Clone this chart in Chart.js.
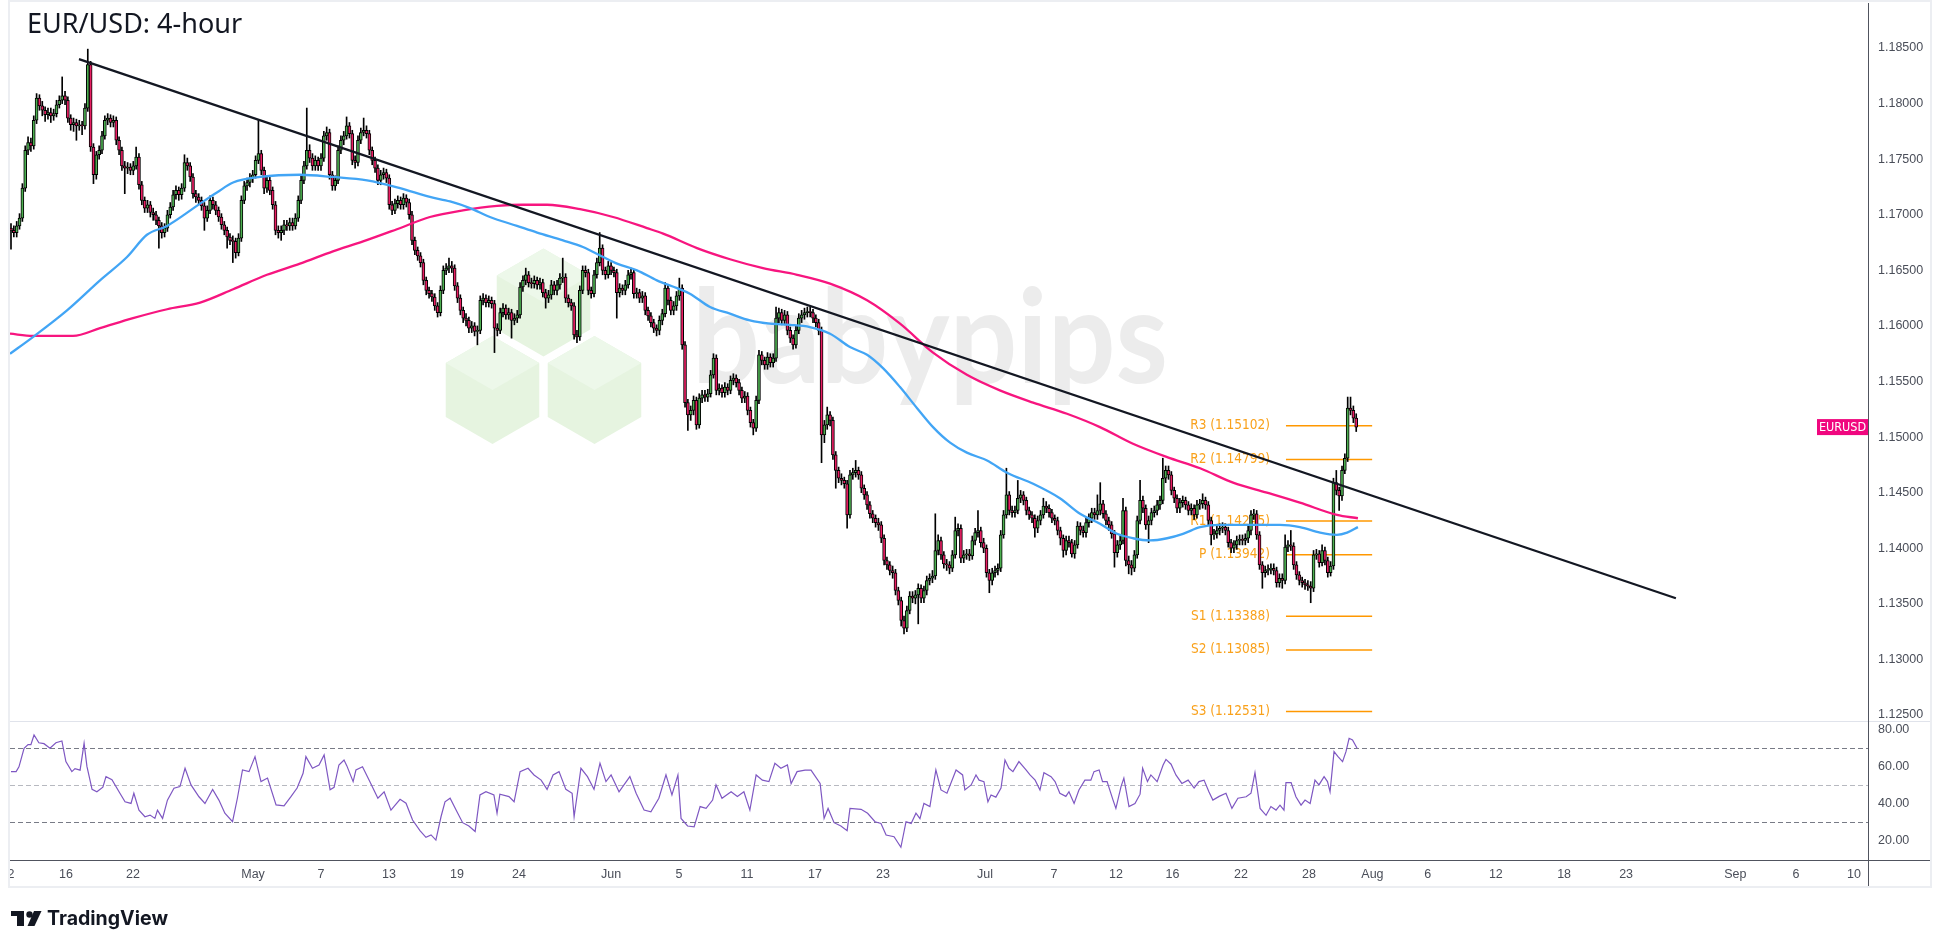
<!DOCTYPE html>
<html>
<head>
<meta charset="utf-8">
<title>EUR/USD: 4-hour</title>
<script src="https://cdn.jsdelivr.net/npm/chart.js@4.4.1/dist/chart.umd.min.js"></script>
<style>
  html, body { margin:0; padding:0; background:#fff; }
  #wrap { position:relative; width:1940px; height:948px; overflow:hidden; background:#fff; }
  #wrap canvas { position:absolute; left:0; }
  #c-price { top:0; }
  #c-rsi { top:721px; }
  #frame { position:absolute; left:8px; top:0; width:1924px; height:888px; box-sizing:border-box;
           border:2px solid #eceef2; pointer-events:none; }
</style>
</head>
<body>
<div id="wrap">
  <canvas id="c-price" width="1940" height="721"></canvas>
  <canvas id="c-rsi" width="1940" height="227"></canvas>
  <div id="frame"></div>
</div>
<script>
// EUR/USD 4-hour — candles, two moving averages, trendline, pivots, RSI pane

// ── candles (one per 4h bar) ──
const opens = [
  1.1688,1.1686,1.1684,1.1690,1.1697,1.1724,1.1758,1.1765,1.1762,1.1785,
  1.1805,1.1798,1.1794,1.1790,1.1792,1.1789,1.1791,1.1799,1.1803,1.1807,
  1.1803,1.1787,1.1781,1.1783,1.1780,1.1781,1.1780,1.1796,1.1835,1.1761,
  1.1736,1.1754,1.1758,1.1771,1.1785,1.1787,1.1783,1.1785,1.1767,1.1758,
  1.1744,1.1742,1.1743,1.1740,1.1744,1.1752,1.1727,1.1713,1.1706,1.1709,
  1.1702,1.1700,1.1695,1.1690,1.1684,1.1688,1.1700,1.1707,1.1718,1.1722,
  1.1718,1.1724,1.1747,1.1744,1.1734,1.1719,1.1716,1.1713,1.1708,1.1697,
  1.1704,1.1713,1.1709,1.1704,1.1698,1.1691,1.1686,1.1680,1.1677,1.1676,
  1.1666,1.1679,1.1713,1.1726,1.1729,1.1733,1.1736,1.1749,1.1755,1.1740,
  1.1724,1.1731,1.1722,1.1709,1.1686,1.1684,1.1686,1.1691,1.1690,1.1693,
  1.1690,1.1697,1.1713,1.1731,1.1744,1.1758,1.1751,1.1744,1.1749,1.1744,
  1.1751,1.1771,1.1774,1.1736,1.1726,1.1731,1.1758,1.1767,1.1771,1.1780,
  1.1773,1.1749,1.1747,1.1767,1.1774,1.1776,1.1773,1.1758,1.1749,1.1742,
  1.1731,1.1736,1.1738,1.1733,1.1709,1.1704,1.1710,1.1713,1.1709,1.1715,
  1.1711,1.1700,1.1677,1.1668,1.1663,1.1657,1.1641,1.1632,1.1629,1.1626,
  1.1618,1.1612,1.1632,1.1650,1.1652,1.1654,1.1652,1.1636,1.1625,1.1614,
  1.1607,1.1605,1.1598,1.1600,1.1595,1.1596,1.1623,1.1625,1.1621,1.1623,
  1.1620,1.1598,1.1596,1.1612,1.1616,1.1610,1.1612,1.1605,1.1607,1.1610,
  1.1635,1.1641,1.1646,1.1639,1.1638,1.1641,1.1637,1.1639,1.1630,1.1625,
  1.1628,1.1637,1.1632,1.1637,1.1643,1.1644,1.1625,1.1621,1.1618,1.1592,
  1.1590,1.1632,1.1650,1.1648,1.1632,1.1629,1.1646,1.1657,1.1670,1.1650,
  1.1646,1.1654,1.1650,1.1648,1.1630,1.1634,1.1632,1.1637,1.1646,1.1648,
  1.1629,1.1630,1.1625,1.1627,1.1614,1.1609,1.1603,1.1598,1.1596,1.1605,
  1.1611,1.1634,1.1623,1.1614,1.1618,1.1627,1.1634,1.1583,1.1531,1.1520,
  1.1524,1.1533,1.1511,1.1535,1.1538,1.1536,1.1539,1.1556,1.1571,1.1542,
  1.1544,1.1540,1.1545,1.1542,1.1551,1.1553,1.1549,1.1542,1.1535,1.1537,
  1.1524,1.1513,1.1508,1.1533,1.1574,1.1569,1.1565,1.1572,1.1567,1.1571,
  1.1607,1.1612,1.1605,1.1610,1.1596,1.1589,1.1583,1.1596,1.1607,1.1610,
  1.1612,1.1613,1.1612,1.1607,1.1603,1.1596,1.1502,1.1511,1.1520,1.1515,
  1.1484,1.1470,1.1463,1.1461,1.1458,1.1430,1.1466,1.1468,1.1470,1.1466,
  1.1454,1.1448,1.1439,1.1431,1.1427,1.1423,1.1421,1.1409,1.1389,1.1385,
  1.1380,1.1378,1.1362,1.1353,1.1335,1.1328,1.1344,1.1357,1.1355,1.1358,
  1.1364,1.1355,1.1362,1.1371,1.1373,1.1375,1.1398,1.1407,1.1394,1.1386,
  1.1385,1.1382,1.1394,1.1416,1.1418,1.1391,1.1394,1.1395,1.1393,1.1407,
  1.1414,1.1416,1.1405,1.1400,1.1378,1.1371,1.1378,1.1380,1.1382,1.1412,
  1.1430,1.1448,1.1434,1.1432,1.1434,1.1445,1.1448,1.1443,1.1434,1.1430,
  1.1427,1.1418,1.1425,1.1430,1.1438,1.1436,1.1432,1.1427,1.1425,1.1416,
  1.1409,1.1398,1.1407,1.1405,1.1395,1.1403,1.1420,1.1416,1.1414,1.1423,
  1.1427,1.1432,1.1430,1.1434,1.1440,1.1431,1.1425,1.1421,1.1413,1.1396,
  1.1403,1.1407,1.1434,1.1389,1.1385,1.1382,1.1394,1.1425,1.1443,1.1436,
  1.1421,1.1425,1.1432,1.1434,1.1439,1.1443,1.1463,1.1470,1.1466,1.1452,
  1.1445,1.1436,1.1441,1.1443,1.1439,1.1434,1.1436,1.1430,1.1439,1.1440,
  1.1443,1.1439,1.1425,1.1412,1.1413,1.1416,1.1418,1.1419,1.1416,1.1405,
  1.1400,1.1403,1.1407,1.1408,1.1407,1.1409,1.1416,1.1430,1.1431,1.1412,
  1.1385,1.1378,1.1380,1.1381,1.1382,1.1380,1.1369,1.1373,1.1371,1.1401,
  1.1403,1.1402,1.1385,1.1376,1.1371,1.1369,1.1367,1.1366,1.1364,1.1394,
  1.1395,1.1387,1.1398,1.1389,1.1378,1.1384,1.1459,1.1452,1.1447,1.1470,
  1.1481,1.1526,1.1524,1.1517
];
const highs = [
  1.1692,1.1690,1.1694,1.1701,1.1728,1.1762,1.1770,1.1769,1.1789,1.1809,
  1.1808,1.1802,1.1797,1.1796,1.1796,1.1795,1.1803,1.1807,1.1824,1.1811,
  1.1806,1.1790,1.1787,1.1786,1.1785,1.1784,1.1800,1.1849,1.1838,1.1764,
  1.1757,1.1762,1.1775,1.1789,1.1791,1.1790,1.1789,1.1788,1.1770,1.1761,
  1.1748,1.1747,1.1746,1.1748,1.1761,1.1755,1.1730,1.1716,1.1713,1.1712,
  1.1706,1.1703,1.1698,1.1693,1.1692,1.1704,1.1711,1.1722,1.1726,1.1725,
  1.1728,1.1754,1.1751,1.1747,1.1737,1.1722,1.1719,1.1716,1.1711,1.1708,
  1.1717,1.1716,1.1712,1.1707,1.1701,1.1694,1.1689,1.1683,1.1681,1.1679,
  1.1683,1.1717,1.1730,1.1733,1.1737,1.1740,1.1753,1.1785,1.1758,1.1743,
  1.1735,1.1734,1.1725,1.1712,1.1690,1.1690,1.1695,1.1695,1.1697,1.1697,
  1.1701,1.1717,1.1735,1.1748,1.1796,1.1763,1.1755,1.1753,1.1752,1.1755,
  1.1775,1.1779,1.1777,1.1739,1.1735,1.1762,1.1771,1.1775,1.1788,1.1783,
  1.1776,1.1753,1.1771,1.1778,1.1787,1.1780,1.1776,1.1761,1.1752,1.1745,
  1.1740,1.1742,1.1741,1.1736,1.1712,1.1714,1.1717,1.1716,1.1719,1.1718,
  1.1714,1.1703,1.1680,1.1671,1.1666,1.1660,1.1644,1.1635,1.1632,1.1629,
  1.1621,1.1636,1.1654,1.1656,1.1661,1.1658,1.1655,1.1639,1.1628,1.1617,
  1.1611,1.1608,1.1604,1.1603,1.1600,1.1627,1.1629,1.1628,1.1627,1.1626,
  1.1623,1.1602,1.1616,1.1620,1.1619,1.1616,1.1615,1.1611,1.1614,1.1639,
  1.1645,1.1652,1.1649,1.1643,1.1645,1.1644,1.1643,1.1642,1.1633,1.1632,
  1.1641,1.1640,1.1641,1.1647,1.1661,1.1647,1.1628,1.1624,1.1621,1.1596,
  1.1636,1.1654,1.1654,1.1651,1.1635,1.1650,1.1661,1.1684,1.1673,1.1653,
  1.1658,1.1657,1.1653,1.1651,1.1638,1.1637,1.1641,1.1650,1.1652,1.1651,
  1.1634,1.1633,1.1631,1.1630,1.1617,1.1612,1.1606,1.1601,1.1609,1.1615,
  1.1639,1.1637,1.1626,1.1622,1.1631,1.1643,1.1637,1.1586,1.1534,1.1528,
  1.1537,1.1536,1.1539,1.1542,1.1542,1.1543,1.1560,1.1575,1.1574,1.1548,
  1.1547,1.1549,1.1548,1.1555,1.1557,1.1556,1.1552,1.1545,1.1541,1.1540,
  1.1527,1.1516,1.1537,1.1578,1.1577,1.1572,1.1576,1.1575,1.1575,1.1617,
  1.1616,1.1615,1.1614,1.1613,1.1599,1.1592,1.1600,1.1611,1.1614,1.1616,
  1.1617,1.1617,1.1615,1.1610,1.1606,1.1599,1.1515,1.1527,1.1523,1.1518,
  1.1487,1.1473,1.1467,1.1464,1.1461,1.1470,1.1472,1.1479,1.1473,1.1469,
  1.1457,1.1451,1.1442,1.1434,1.1430,1.1427,1.1424,1.1412,1.1392,1.1388,
  1.1384,1.1381,1.1365,1.1356,1.1339,1.1348,1.1361,1.1361,1.1362,1.1368,
  1.1367,1.1366,1.1375,1.1377,1.1380,1.1431,1.1412,1.1410,1.1397,1.1390,
  1.1388,1.1398,1.1428,1.1422,1.1421,1.1398,1.1399,1.1399,1.1411,1.1418,
  1.1434,1.1419,1.1409,1.1403,1.1381,1.1382,1.1384,1.1386,1.1416,1.1434,
  1.1472,1.1451,1.1438,1.1438,1.1461,1.1452,1.1451,1.1446,1.1437,1.1433,
  1.1430,1.1429,1.1434,1.1445,1.1442,1.1439,1.1435,1.1430,1.1428,1.1419,
  1.1412,1.1411,1.1411,1.1408,1.1407,1.1424,1.1423,1.1420,1.1427,1.1431,
  1.1436,1.1436,1.1448,1.1459,1.1443,1.1434,1.1428,1.1424,1.1416,1.1407,
  1.1411,1.1445,1.1437,1.1393,1.1389,1.1398,1.1429,1.1461,1.1447,1.1439,
  1.1429,1.1436,1.1438,1.1443,1.1447,1.1481,1.1474,1.1474,1.1469,1.1455,
  1.1448,1.1445,1.1447,1.1446,1.1442,1.1440,1.1439,1.1443,1.1444,1.1449,
  1.1446,1.1442,1.1428,1.1417,1.1420,1.1422,1.1423,1.1422,1.1419,1.1408,
  1.1407,1.1411,1.1412,1.1412,1.1413,1.1420,1.1434,1.1435,1.1434,1.1415,
  1.1388,1.1384,1.1385,1.1386,1.1386,1.1383,1.1377,1.1377,1.1412,1.1407,
  1.1416,1.1405,1.1388,1.1379,1.1374,1.1372,1.1371,1.1370,1.1398,1.1399,
  1.1398,1.1403,1.1401,1.1392,1.1388,1.1463,1.1470,1.1455,1.1474,1.1485,
  1.1536,1.1536,1.1528,1.1521
];
const lows = [
  1.1669,1.1680,1.1680,1.1687,1.1694,1.1721,1.1754,1.1757,1.1759,1.1782,
  1.1794,1.1789,1.1784,1.1786,1.1783,1.1785,1.1788,1.1796,1.1800,1.1799,
  1.1783,1.1776,1.1775,1.1767,1.1776,1.1772,1.1777,1.1793,1.1757,1.1728,
  1.1732,1.1750,1.1755,1.1768,1.1781,1.1779,1.1779,1.1763,1.1754,1.1740,
  1.1719,1.1737,1.1736,1.1736,1.1741,1.1723,1.1709,1.1702,1.1702,1.1698,
  1.1695,1.1691,1.1670,1.1679,1.1680,1.1685,1.1697,1.1704,1.1714,1.1713,
  1.1714,1.1721,1.1740,1.1730,1.1715,1.1711,1.1709,1.1704,1.1686,1.1694,
  1.1701,1.1705,1.1700,1.1694,1.1687,1.1682,1.1670,1.1673,1.1657,1.1661,
  1.1663,1.1676,1.1710,1.1722,1.1725,1.1729,1.1733,1.1746,1.1736,1.1719,
  1.1720,1.1718,1.1705,1.1682,1.1679,1.1677,1.1682,1.1686,1.1686,1.1686,
  1.1687,1.1694,1.1710,1.1728,1.1741,1.1747,1.1740,1.1740,1.1740,1.1740,
  1.1748,1.1767,1.1732,1.1722,1.1722,1.1728,1.1755,1.1763,1.1768,1.1769,
  1.1745,1.1742,1.1744,1.1764,1.1771,1.1769,1.1754,1.1745,1.1738,1.1727,
  1.1727,1.1732,1.1729,1.1705,1.1700,1.1701,1.1706,1.1705,1.1705,1.1707,
  1.1696,1.1673,1.1664,1.1659,1.1653,1.1637,1.1628,1.1625,1.1622,1.1614,
  1.1608,1.1609,1.1629,1.1646,1.1648,1.1648,1.1632,1.1621,1.1610,1.1603,
  1.1600,1.1594,1.1594,1.1591,1.1583,1.1593,1.1619,1.1617,1.1617,1.1616,
  1.1576,1.1591,1.1593,1.1608,1.1606,1.1606,1.1589,1.1601,1.1603,1.1607,
  1.1631,1.1637,1.1635,1.1634,1.1634,1.1633,1.1633,1.1626,1.1616,1.1621,
  1.1624,1.1628,1.1628,1.1633,1.1639,1.1621,1.1617,1.1614,1.1588,1.1585,
  1.1587,1.1629,1.1644,1.1628,1.1625,1.1626,1.1643,1.1654,1.1646,1.1642,
  1.1643,1.1646,1.1644,1.1607,1.1626,1.1628,1.1628,1.1634,1.1642,1.1625,
  1.1625,1.1621,1.1621,1.1610,1.1605,1.1599,1.1594,1.1591,1.1592,1.1601,
  1.1608,1.1619,1.1610,1.1610,1.1614,1.1623,1.1579,1.1527,1.1506,1.1515,
  1.1520,1.1507,1.1508,1.1531,1.1532,1.1532,1.1536,1.1553,1.1538,1.1538,
  1.1536,1.1536,1.1538,1.1539,1.1547,1.1545,1.1538,1.1531,1.1531,1.1520,
  1.1509,1.1502,1.1505,1.1530,1.1565,1.1561,1.1561,1.1563,1.1563,1.1568,
  1.1603,1.1601,1.1601,1.1592,1.1585,1.1579,1.1580,1.1593,1.1603,1.1606,
  1.1608,1.1608,1.1603,1.1599,1.1592,1.1477,1.1495,1.1507,1.1510,1.1480,
  1.1454,1.1459,1.1457,1.1454,1.1418,1.1427,1.1462,1.1464,1.1462,1.1450,
  1.1444,1.1435,1.1427,1.1423,1.1419,1.1416,1.1405,1.1385,1.1381,1.1376,
  1.1373,1.1358,1.1349,1.1330,1.1323,1.1325,1.1341,1.1351,1.1350,1.1332,
  1.1351,1.1351,1.1358,1.1367,1.1369,1.1372,1.1394,1.1390,1.1382,1.1380,
  1.1377,1.1379,1.1391,1.1411,1.1387,1.1387,1.1390,1.1389,1.1390,1.1403,
  1.1410,1.1401,1.1396,1.1374,1.1360,1.1367,1.1374,1.1376,1.1379,1.1409,
  1.1427,1.1430,1.1428,1.1428,1.1431,1.1441,1.1439,1.1430,1.1426,1.1423,
  1.1410,1.1414,1.1421,1.1427,1.1432,1.1428,1.1423,1.1421,1.1412,1.1403,
  1.1392,1.1394,1.1401,1.1392,1.1391,1.1400,1.1412,1.1410,1.1410,1.1419,
  1.1423,1.1426,1.1426,1.1430,1.1427,1.1421,1.1416,1.1409,1.1383,1.1392,
  1.1399,1.1404,1.1384,1.1377,1.1376,1.1379,1.1391,1.1422,1.1432,1.1417,
  1.1405,1.1421,1.1428,1.1430,1.1435,1.1440,1.1459,1.1462,1.1448,1.1441,
  1.1432,1.1432,1.1437,1.1435,1.1430,1.1430,1.1426,1.1427,1.1435,1.1436,
  1.1435,1.1421,1.1403,1.1408,1.1409,1.1412,1.1414,1.1412,1.1401,1.1396,
  1.1396,1.1399,1.1403,1.1403,1.1403,1.1405,1.1412,1.1426,1.1408,1.1381,
  1.1364,1.1374,1.1376,1.1377,1.1376,1.1365,1.1365,1.1364,1.1368,1.1397,
  1.1398,1.1381,1.1372,1.1367,1.1365,1.1363,1.1362,1.1351,1.1361,1.1390,
  1.1383,1.1384,1.1385,1.1374,1.1375,1.1381,1.1448,1.1434,1.1443,1.1467,
  1.1478,1.1520,1.1513,1.1505
];
const closes = [
  1.1686,1.1684,1.1690,1.1697,1.1724,1.1758,1.1765,1.1762,1.1785,1.1805,
  1.1798,1.1794,1.1790,1.1792,1.1789,1.1791,1.1799,1.1803,1.1807,1.1803,
  1.1787,1.1781,1.1783,1.1780,1.1781,1.1780,1.1796,1.1835,1.1761,1.1736,
  1.1754,1.1758,1.1771,1.1785,1.1787,1.1783,1.1785,1.1767,1.1758,1.1744,
  1.1742,1.1743,1.1740,1.1744,1.1752,1.1727,1.1713,1.1706,1.1709,1.1702,
  1.1700,1.1695,1.1690,1.1684,1.1688,1.1700,1.1707,1.1718,1.1722,1.1718,
  1.1724,1.1747,1.1744,1.1734,1.1719,1.1716,1.1713,1.1708,1.1697,1.1704,
  1.1713,1.1709,1.1704,1.1698,1.1691,1.1686,1.1680,1.1677,1.1676,1.1666,
  1.1679,1.1713,1.1726,1.1729,1.1733,1.1736,1.1749,1.1755,1.1740,1.1724,
  1.1731,1.1722,1.1709,1.1686,1.1684,1.1686,1.1691,1.1690,1.1693,1.1690,
  1.1697,1.1713,1.1731,1.1744,1.1758,1.1751,1.1744,1.1749,1.1744,1.1751,
  1.1771,1.1774,1.1736,1.1726,1.1731,1.1758,1.1767,1.1771,1.1780,1.1773,
  1.1749,1.1747,1.1767,1.1774,1.1776,1.1773,1.1758,1.1749,1.1742,1.1731,
  1.1736,1.1738,1.1733,1.1709,1.1704,1.1710,1.1713,1.1709,1.1715,1.1711,
  1.1700,1.1677,1.1668,1.1663,1.1657,1.1641,1.1632,1.1629,1.1626,1.1618,
  1.1612,1.1632,1.1650,1.1652,1.1654,1.1652,1.1636,1.1625,1.1614,1.1607,
  1.1605,1.1598,1.1600,1.1595,1.1596,1.1623,1.1625,1.1621,1.1623,1.1620,
  1.1598,1.1596,1.1612,1.1616,1.1610,1.1612,1.1605,1.1607,1.1610,1.1635,
  1.1641,1.1646,1.1639,1.1638,1.1641,1.1637,1.1639,1.1630,1.1625,1.1628,
  1.1637,1.1632,1.1637,1.1643,1.1644,1.1625,1.1621,1.1618,1.1592,1.1590,
  1.1632,1.1650,1.1648,1.1632,1.1629,1.1646,1.1657,1.1670,1.1650,1.1646,
  1.1654,1.1650,1.1648,1.1630,1.1634,1.1632,1.1637,1.1646,1.1648,1.1629,
  1.1630,1.1625,1.1627,1.1614,1.1609,1.1603,1.1598,1.1596,1.1605,1.1611,
  1.1634,1.1623,1.1614,1.1618,1.1627,1.1634,1.1583,1.1531,1.1520,1.1524,
  1.1533,1.1511,1.1535,1.1538,1.1536,1.1539,1.1556,1.1571,1.1542,1.1544,
  1.1540,1.1545,1.1542,1.1551,1.1553,1.1549,1.1542,1.1535,1.1537,1.1524,
  1.1513,1.1508,1.1533,1.1574,1.1569,1.1565,1.1572,1.1567,1.1571,1.1607,
  1.1612,1.1605,1.1610,1.1596,1.1589,1.1583,1.1596,1.1607,1.1610,1.1612,
  1.1613,1.1612,1.1607,1.1603,1.1596,1.1502,1.1511,1.1520,1.1515,1.1484,
  1.1470,1.1463,1.1461,1.1458,1.1430,1.1466,1.1468,1.1470,1.1466,1.1454,
  1.1448,1.1439,1.1431,1.1427,1.1423,1.1421,1.1409,1.1389,1.1385,1.1380,
  1.1378,1.1362,1.1353,1.1335,1.1328,1.1344,1.1357,1.1355,1.1358,1.1364,
  1.1355,1.1362,1.1371,1.1373,1.1375,1.1398,1.1407,1.1394,1.1386,1.1385,
  1.1382,1.1394,1.1416,1.1418,1.1391,1.1394,1.1395,1.1393,1.1407,1.1414,
  1.1416,1.1405,1.1400,1.1378,1.1371,1.1378,1.1380,1.1382,1.1412,1.1430,
  1.1448,1.1434,1.1432,1.1434,1.1445,1.1448,1.1443,1.1434,1.1430,1.1427,
  1.1418,1.1425,1.1430,1.1438,1.1436,1.1432,1.1427,1.1425,1.1416,1.1409,
  1.1398,1.1407,1.1405,1.1395,1.1403,1.1420,1.1416,1.1414,1.1423,1.1427,
  1.1432,1.1430,1.1434,1.1440,1.1431,1.1425,1.1421,1.1413,1.1396,1.1403,
  1.1407,1.1434,1.1389,1.1385,1.1382,1.1394,1.1425,1.1443,1.1436,1.1421,
  1.1425,1.1432,1.1434,1.1439,1.1443,1.1463,1.1470,1.1466,1.1452,1.1445,
  1.1436,1.1441,1.1443,1.1439,1.1434,1.1436,1.1430,1.1439,1.1440,1.1443,
  1.1439,1.1425,1.1412,1.1413,1.1416,1.1418,1.1419,1.1416,1.1405,1.1400,
  1.1403,1.1407,1.1408,1.1407,1.1409,1.1416,1.1430,1.1431,1.1412,1.1385,
  1.1378,1.1380,1.1381,1.1382,1.1380,1.1369,1.1373,1.1371,1.1401,1.1403,
  1.1402,1.1385,1.1376,1.1371,1.1369,1.1367,1.1366,1.1364,1.1394,1.1395,
  1.1387,1.1398,1.1389,1.1378,1.1384,1.1459,1.1452,1.1447,1.1470,1.1481,
  1.1526,1.1524,1.1517,1.1509
];

// ── overlays: moving averages (bar index, price) ──
const blueIdx = [-0.35,7.7,19.7,31.3,40.8,47.8,54.9,66.5,72.4,78.1,87.6,101.6,113.2,125.2,136.8,147.3,154.4,161.4,168.4,177.9,
  185,194.1,201.1,208.2,213.1,220.1,227.1,234.2,238.7,245.8,252.8,259.8,266.9,273.9,280.9,288,295,301,306.6,312.6,
  318.6,324.2,330.2,336.1,343.2,350.2,359.4,368.8,375.9,382.9,388.9,394.5,400.5,406.5,412.1,418.1,425.1,435.7,446.2,453.2,
  460.3,466.2,469.8,473.6];
const blueVals = [1.1575,1.1590,1.1614,1.1641,1.1662,1.1682,1.1690,1.1710,1.1720,1.1729,1.1734,1.1736,1.1734,1.1731,1.1724,1.1716,1.1712,1.1706,1.1698,1.1690,
  1.1684,1.1677,1.1671,1.1662,1.1656,1.1650,1.1641,1.1634,1.1629,1.1617,1.1611,1.1605,1.1602,1.1601,1.1599,1.1593,1.1581,1.1574,1.1562,1.1545,
  1.1526,1.1509,1.1495,1.1486,1.1479,1.1468,1.1458,1.1445,1.1431,1.1422,1.1413,1.1409,1.1407,1.1409,1.1413,1.1419,1.1421,1.1421,1.1421,1.1419,
  1.1414,1.1412,1.1414,1.1419];
const pinkIdx = [-0.35,7.7,21.8,31.3,42.9,54.9,66.5,78.1,90,101.6,113.2,123.8,135.7,147.3,158.9,170.9,180,188.5,200.1,211.7,
  223.6,229.3,241.2,252.8,264.4,276.4,288,301,312.6,324.2,336.1,347.7,359.4,371.3,382.9,394.5,406.5,418.1,429.7,441.6,
  453.2,466.2,473.6];
const pinkVals = [1.1593,1.1591,1.1591,1.1598,1.1607,1.1615,1.1621,1.1633,1.1646,1.1656,1.1667,1.1676,1.1687,1.1698,1.1704,1.1708,1.1709,1.1709,1.1705,1.1698,
  1.1688,1.1683,1.1670,1.1660,1.1652,1.1646,1.1638,1.1623,1.1602,1.1576,1.1556,1.1542,1.1531,1.1521,1.1509,1.1494,1.1482,1.1472,1.1459,1.1450,
  1.1441,1.1430,1.1427];
const trendIdx = [23.9, 585.4];
const trendVals = [1.1840, 1.1355];

// ── pivot levels ──
const pivotNames = ['R3','R2','R1','P','S1','S2','S3'];
const pivotVals = [1.15102,1.14799,1.14245,1.13942,1.13388,1.13085,1.12531];
const pivotSpan = [448.3, 478.6];

// ── axes ──
const priceTicks = [1.125,1.130,1.135,1.140,1.145,1.150,1.155,1.160,1.165,1.170,1.175,1.180,1.185];
const dateLabels = ['2','16','22','May','7','13','19','24','Jun','5','11','17','23','Jul','7','12','16','22','28','Aug','6','12','18','23','Sep','6','10'];
const dateIdx = [0,19.3,42.9,85.1,109,132.9,156.8,178.6,211,234.9,258.8,282.7,306.6,342.5,366.7,388.5,408.4,432.5,456.4,478.7,498.1,522.1,546.1,567.9,606.3,627.6,648];

// ── RSI pane (bar index, value) ──
const rsiIdx = [0,1.8,2.8,4.6,6,7,8.1,9.8,11.6,13.7,15.8,17.9,19.3,21.4,22.5,24.3,25.7,26.7,28.5,30.2,
  32.3,33.4,35.5,38.3,40.1,42.2,43.2,45,47.1,48.9,50.6,51.5,53.3,55,57.3,59.4,61.2,63.3,66.1,68.2,
  70.9,73.1,75.2,77.9,79.6,81.4,83.7,85.8,87.9,90.2,93.2,96,98.5,100.6,102.7,103.7,106,108.3,110.1,112.2,
  113.6,115.3,117.1,118.1,120.3,121.3,123.6,126.2,129,131.2,133.6,136.8,138.9,141.2,143.8,145.9,147.7,149.4,151.2,152.6,
  154.4,156.5,158.8,161,163.2,164.9,167,169.8,170.9,171.9,175.1,176.9,179,181.8,183.9,186.4,188.5,190.6,192.7,195.1,
  197.3,198,200.4,202.7,205,207.1,209.2,211,213.8,217.6,219.8,222.6,225,227.8,230.3,232.4,234.5,235.6,237.9,240.2,
  242.3,244.4,246.7,247.9,250,253.2,255.4,257.7,259.8,262,264.2,266.5,268.6,270.7,273,274.3,276.4,279.2,281.3,284.5,
  285.9,287.3,289.4,291.8,294,295,298.9,301.2,303.8,305.9,307.7,310.5,312.9,314.7,316.5,318.2,319.6,321,323.1,325.2,
  327,329.1,332.3,334.6,335.4,337.6,339.3,340.4,342.1,343.5,344.6,346.3,348.1,349.5,350.9,352.3,354.4,356.9,358.3,360.1,
  361.8,363.2,365.7,367.1,368.8,370.9,372,373.8,375.5,377.6,379.7,380.8,382.6,383.8,385.4,387.5,388.5,390.3,391.3,393.1,
  395.2,397,397.9,399.6,400.8,403,405.1,406.1,407.9,409.6,411.7,413.9,416,417.7,419.5,421.2,422.6,424.8,427.2,429.3,
  431.4,434.3,436,437.4,439.2,441.3,443,444.8,446.2,447.6,448.3,450.1,451.8,453.6,455,456.8,458.5,459.9,461.7,462.9,
  463.8,465.2,466.6,468.2,469.4,470.5,471.7,473.3];
const rsiVals = [57.4,57.4,60,70,72,72,77.2,73,72.5,70,73,74,62.8,57.4,59,58.2,72.7,60.2,47.8,46.5,
  49,54.7,53,45.7,41.1,40.2,45.7,36.6,33,33.9,32.1,36.6,32.1,42,48.4,49.3,59.2,50.2,43.8,40.2,
  47.8,42,34.9,30.3,43,58.3,57.4,65.5,52,53.9,39.4,38.9,44,48.5,56.5,65.5,59.2,61,66.4,47.6,
  48.9,61,63.7,60.5,52,58.3,60,51.9,43,46.5,36.6,42.4,40.3,31.2,25.5,21.9,23.2,20.4,33,41.1,
  43,36.6,29.8,28,25,44.8,46.5,44.8,34.9,45.2,43.9,41.1,57.4,59.2,55.6,52.8,47.8,55.6,57.4,47.8,
  45.7,33,59.2,54.7,47.8,61.9,52,55.6,46.5,54.7,45.7,36.6,35.7,43,55.6,44.8,55.6,32.1,28,27.5,
  38.5,37.5,42,50.2,43,46.5,44,46.5,36.6,55.6,52.8,52,61.9,59.2,61,50.9,57.4,58.2,58.2,51,
  32.1,37.5,29.8,28,25.5,37.5,37,34.9,30.3,29.4,23.1,22.2,16.5,30.3,29.4,34.9,32,40.2,38.5,58.3,
  47.5,45.7,58.3,55.6,47.5,50.2,55.6,52.8,52,41.1,44.8,43.6,48.5,63.7,59.2,57.4,62.8,58.3,55.6,52.8,
  47.5,56.8,54.7,52,45.7,44,46.5,40.2,47.5,52.8,52.8,57.4,58.3,52,52,42,37.5,49.3,53.9,38.5,
  40.2,45.2,59.2,52,55.6,52,61,64,61.4,55.6,51,52.8,48.5,52,52.8,46.5,42,44,45.7,37.5,
  43,43.8,45.7,56.8,37.5,33.8,38.5,36.6,39.3,36.6,51.5,51.5,43.8,39.3,42,40.2,52.8,50.2,54.7,52,
  46.5,68.2,65.5,62.8,68.2,75.4,74.5,70];
const rsiLevels = [70, 50, 30];
const rsiTicks = [20, 40, 60, 80];

// ── look ──
const X_MIN = -0.35, X_MAX = 652.95;
const AXIS_W = 72;
const UP = '#4caf50', DOWN = '#e91e63';
const TXT = '#4a4e59';
const AX_FONT = {family:'"Liberation Sans", Arial, sans-serif', size:12.5};
const NARROW = '"Liberation Sans Narrow", "DejaVu Sans Condensed", "Liberation Sans", sans-serif';

const nBars = Math.min(opens.length, highs.length, lows.length, closes.length);
const pts = (xs, ys) => xs.map((x, i) => ({x, y: ys[i]}));

function hexCube(ctx, cx, cy, r){
  ctx.beginPath();
  for(let k=0;k<6;k++){
    const a = Math.PI/180*(60*k-90);
    ctx.lineTo(cx + r*Math.cos(a), cy + r*Math.sin(a));
  }
  ctx.closePath();
  ctx.fillStyle = '#e6f4e0';
  ctx.fill();
  ctx.beginPath();
  ctx.moveTo(cx, cy-r); ctx.lineTo(cx+r*0.866, cy-r/2); ctx.lineTo(cx, cy); ctx.lineTo(cx-r*0.866, cy-r/2);
  ctx.closePath();
  ctx.fillStyle = '#edf8ea';
  ctx.fill();
}

// price pane: watermark + pivot labels behind the bars, title and tag on top
const pricePane = {
  id:'pricePane',
  beforeDatasetsDraw(chart){
    const {ctx, scales:{x, y}} = chart;
    ctx.save();
    hexCube(ctx, 543.5, 302.5, 54);
    hexCube(ctx, 492.5, 390, 54);
    hexCube(ctx, 594.5, 390, 54);
    ctx.font = 'bold 130px Lato, "Open Sans", sans-serif';
    const w = ctx.measureText('babypips').width;
    ctx.translate(692, 383);
    ctx.scale(476 / w, 1);
    ctx.fillStyle = '#ececec';
    ctx.textBaseline = 'alphabetic';
    ctx.fillText('babypips', 0, 0);
    ctx.restore();

    ctx.save();
    ctx.font = '13.5px ' + NARROW;
    ctx.fillStyle = '#f9a11b';
    ctx.textAlign = 'right';
    ctx.textBaseline = 'middle';
    const lx = x.getPixelForValue(pivotSpan[0]) - 16;
    pivotNames.forEach((n, i) => {
      ctx.fillText(n + ' (' + pivotVals[i].toFixed(5) + ')', lx, y.getPixelForValue(pivotVals[i]));
    });
    ctx.restore();
  },
  afterDraw(chart){
    const {ctx, chartArea, scales:{y}} = chart;
    ctx.save();
    ctx.strokeStyle = '#50535e';
    ctx.lineWidth = 1;
    ctx.beginPath();
    ctx.moveTo(chartArea.right + 0.5, 3);
    ctx.lineTo(chartArea.right + 0.5, chart.height);
    ctx.stroke();

    const last = closes[nBars-1];
    const ty = y.getPixelForValue(last);
    ctx.fillStyle = '#f0077f';
    ctx.fillRect(chartArea.right - 51, ty - 8, 51, 16);
    ctx.fillStyle = '#fff';
    ctx.font = '12.5px ' + NARROW;
    ctx.textAlign = 'center';
    ctx.textBaseline = 'middle';
    ctx.fillText('EURUSD', chartArea.right - 25.5, ty + 0.5);

    ctx.fillStyle = '#131722';
    ctx.font = '27px "Noto Sans", "Open Sans", sans-serif';
    ctx.textAlign = 'left';
    ctx.textBaseline = 'alphabetic';
    ctx.fillText('EUR/USD: 4-hour', 27, 33);
    ctx.restore();
  }
};

new Chart(document.getElementById('c-price'), {
  type:'bar',
  data:{
    datasets:[
      {type:'line', label:'Trendline', data:pts(trendIdx, trendVals), borderColor:'#131722', borderWidth:2.3, pointRadius:0, order:1},
      {type:'line', label:'MA fast', data:pts(blueIdx, blueVals), borderColor:'#42a5f5', borderWidth:2.3, pointRadius:0, cubicInterpolationMode:'monotone', order:2},
      {type:'line', label:'MA slow', data:pts(pinkIdx, pinkVals), borderColor:'#f7157f', borderWidth:2.3, pointRadius:0, cubicInterpolationMode:'monotone', order:3},
      {label:'Body', data:closes.slice(0, nBars).map((c, i) => ({x:i, y:[opens[i], c]})),
        backgroundColor:closes.slice(0, nBars).map((c, i) => c >= opens[i] ? UP : DOWN),
        borderColor:'#000', borderWidth:1, borderSkipped:false, barThickness:3, minBarLength:1, grouped:false, order:4},
      {label:'Wick', data:closes.slice(0, nBars).map((c, i) => ({x:i, y:[lows[i], highs[i]]})),
        backgroundColor:'#000', borderWidth:0, barThickness:1, grouped:false, order:5},
      ...pivotVals.map((v, i) => ({type:'line', label:pivotNames[i], data:pts(pivotSpan, [v, v]),
        borderColor:'#ff9800', borderWidth:1.5, pointRadius:0, order:6}))
    ]
  },
  options:{
    responsive:false, animation:false, events:[],
    layout:{padding:{left:10, top:3, right:0, bottom:0}},
    plugins:{legend:{display:false}, tooltip:{enabled:false}},
    scales:{
      x:{type:'linear', min:X_MIN, max:X_MAX, offset:false, display:false},
      y:{type:'linear', position:'right', min:1.12446, max:1.18905,
        grid:{display:false, drawTicks:false}, border:{display:false},
        afterBuildTicks:s => { s.ticks = priceTicks.map(v => ({value:v})); },
        afterFit:s => { s.width = AXIS_W; s.paddingTop = 0; s.paddingBottom = 0; },
        ticks:{callback:v => v.toFixed(5), color:TXT, font:AX_FONT, padding:10}}
    }
  },
  plugins:[pricePane]
});

// RSI pane: level lines, pane borders, time axis line, logo
const rsiPane = {
  id:'rsiPane',
  beforeDatasetsDraw(chart){
    const {ctx, chartArea, scales:{y}} = chart;
    ctx.save();
    ctx.lineWidth = 1;
    ctx.setLineDash([5, 3]);
    rsiLevels.forEach(v => {
      const py = Math.round(y.getPixelForValue(v)) + 0.5;
      ctx.strokeStyle = v === 50 ? '#b7b9c0' : '#787b86';
      ctx.beginPath();
      ctx.moveTo(chartArea.left, py);
      ctx.lineTo(chartArea.right, py);
      ctx.stroke();
    });
    ctx.restore();
  },
  afterDraw(chart){
    const {ctx, chartArea} = chart;
    ctx.save();
    ctx.lineWidth = 1;
    ctx.strokeStyle = '#e0e3eb';
    ctx.beginPath(); ctx.moveTo(10, 0.5); ctx.lineTo(1930, 0.5); ctx.stroke();
    ctx.strokeStyle = '#50535e';
    ctx.beginPath(); ctx.moveTo(10, chartArea.bottom + 0.5); ctx.lineTo(1930, chartArea.bottom + 0.5); ctx.stroke();
    ctx.beginPath(); ctx.moveTo(chartArea.right + 0.5, 0); ctx.lineTo(chartArea.right + 0.5, 166); ctx.stroke();

    // TradingView mark + word
    ctx.fillStyle = '#131722';
    ctx.fillRect(11, 190, 13, 5);
    ctx.fillRect(17, 190, 7, 15);
    ctx.beginPath(); ctx.arc(29.5, 193.5, 3.2, 0, Math.PI*2); ctx.fill();
    ctx.beginPath(); ctx.moveTo(34, 190); ctx.lineTo(41.5, 190); ctx.lineTo(34.5, 205); ctx.lineTo(27.5, 205); ctx.closePath(); ctx.fill();
    ctx.font = 'bold 20px Inter, Roboto, sans-serif';
    const w = ctx.measureText('TradingView').width;
    ctx.translate(47, 204);
    ctx.scale(121 / w, 1);
    ctx.textBaseline = 'alphabetic';
    ctx.fillText('TradingView', 0, 0);
    ctx.restore();
  }
};

new Chart(document.getElementById('c-rsi'), {
  type:'line',
  data:{
    datasets:[
      {label:'RSI', data:pts(rsiIdx, rsiVals), borderColor:'#7e57c2', borderWidth:1.2, pointRadius:0, tension:0}
    ]
  },
  options:{
    responsive:false, animation:false, events:[],
    layout:{padding:{left:10, top:0, right:0, bottom:0}},
    plugins:{legend:{display:false}, tooltip:{enabled:false}},
    scales:{
      x:{type:'linear', min:X_MIN, max:X_MAX, offset:false, position:'bottom',
        grid:{display:false, drawTicks:false}, border:{display:false},
        afterBuildTicks:s => { s.ticks = dateIdx.map(v => ({value:v})); },
        afterFit:s => { s.height = 88; s.paddingLeft = 0; s.paddingRight = 0; },
        ticks:{autoSkip:false, maxRotation:0, padding:7, color:TXT, font:AX_FONT, callback:(v, i) => dateLabels[i]}},
      y:{type:'linear', position:'right', min:9.62, max:84.76,
        grid:{display:false, drawTicks:false}, border:{display:false},
        afterBuildTicks:s => { s.ticks = rsiTicks.map(v => ({value:v})); },
        afterFit:s => { s.width = AXIS_W; s.paddingTop = 0; s.paddingBottom = 0; },
        ticks:{callback:v => v.toFixed(2), color:TXT, font:AX_FONT, padding:10}}
    }
  },
  plugins:[rsiPane]
});
</script>
</body>
</html>
